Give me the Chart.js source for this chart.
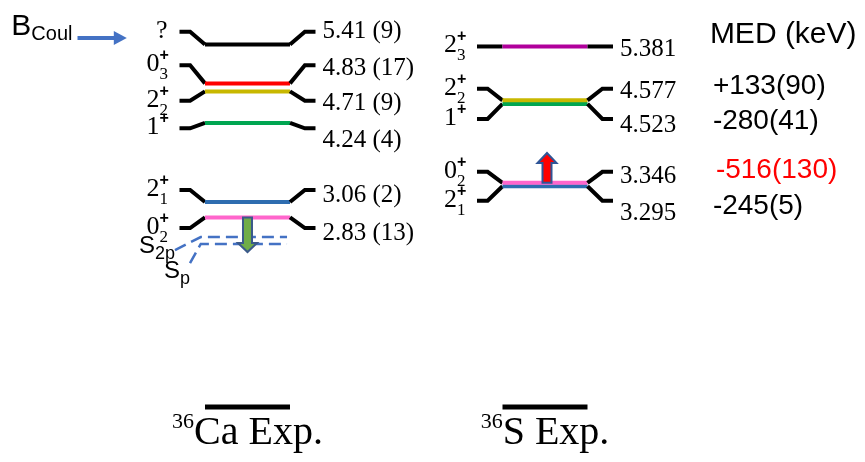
<!DOCTYPE html>
<html><head><meta charset="utf-8">
<script src="https://cdn.jsdelivr.net/npm/chart.js@4.4.1/dist/chart.umd.min.js"></script>
<style>html,body{margin:0;padding:0;background:#fff;}canvas{display:block}</style>
</head><body>
<canvas id="c" width="865" height="462"></canvas>
<script>
// ---------------- data ----------------
// 36Ca experimental levels (MeV)
const caEnergies = [5.41, 4.83, 4.71, 4.24, 3.06, 2.83];
const caLabelE   = [5.60, 5.10, 4.57, 4.16, 3.24, 2.67];   // where the side labels sit
const caValues   = ['5.41 (9)', '4.83 (17)', '4.71 (9)', '4.24 (4)', '3.06 (2)', '2.83 (13)'];
const caSpin     = ['?', '0', '2', '1', '2', '0'];
const caSub      = ['', '3', '2', '', '1', '2'];
const caSup      = ['', '+', '+', '+', '+', '+'];
const caColors   = ['#000000', '#FF0000', '#C8B800', '#00A651', '#2E6DB0', '#FF66CC'];

// 36S experimental levels (MeV)
const sEnergies = [5.381, 4.577, 4.523, 3.346, 3.295];
const sLabelE   = [5.381, 4.75, 4.30, 3.51, 3.08];
const sValues   = ['5.381', '4.577', '4.523', '3.346', '3.295'];
const sSpin     = ['2', '2', '1', '0', '2'];
const sSub      = ['3', '2', '', '2', '1'];
const sSup      = ['+', '+', '+', '+', '+'];
const sColors   = ['#B0009B', '#C8B800', '#00A651', '#FF66CC', '#2E6DB0'];

// mirror energy differences (keV), per 36S level
const medTitle  = 'MED (keV)';
const medValues = [null, '+133(90)', '-280(41)', '-516(130)', '-245(5)'];
const medColors = [null, '#000000', '#000000', '#FF0000', '#000000'];

// proton separation thresholds in 36Ca (diagram, MeV)
const thrNames    = ['2p', 'p'];
const thrEnergies = [2.537, 2.433];
const thrFootE    = [2.343, 2.149];

// shift arrows (MeV from -> to)
const caArrow = [2.83, 2.313];
const sArrow  = [3.346, 3.79];
const bCoulE  = 5.507;

const columnX       = [0, 7];
const columnIsotope = ['36', '36'];
const columnTitles  = ['Ca Exp.', 'S Exp.'];

// ---------------- layout ----------------
const serif = '"Liberation Serif", "Times New Roman", serif';
const sans  = '"Liberation Sans", Arial, sans-serif';
const STUB_OUT = 1.6, STUB_IN = 1.35, FLAT = 1.0;
const caTextNudge  = [-2, 1, 1, 10, 4, 3];
const sTextNudge   = [1, 1, 5, 3, 11];
const medTextNudge = [0, -2, 2, -2, 6];

function levelDataset(cx, E, lab, color) {
  return {
    data: [
      {x: cx - STUB_OUT, y: lab}, {x: cx - STUB_IN, y: lab}, {x: cx - FLAT, y: E},
      {x: cx + FLAT, y: E}, {x: cx + STUB_IN, y: lab}, {x: cx + STUB_OUT, y: lab}
    ],
    showLine: true, pointRadius: 0, borderWidth: 4, borderColor: '#000',
    segment: { borderColor: c => c.p0DataIndex === 2 ? color : '#000' },
    borderCapStyle: 'butt', borderJoinStyle: 'miter', clip: false, tension: 0
  };
}

const datasets = [];
caEnergies.forEach((E, i) => datasets.push(levelDataset(columnX[0], E, caLabelE[i], caColors[i])));
sEnergies.forEach((E, i) => datasets.push(levelDataset(columnX[1], E, sLabelE[i], sColors[i])));
// ground-state bars
columnX.forEach(cx => datasets.push({
  data: [{x: cx - FLAT, y: 0}, {x: cx + FLAT, y: 0}],
  showLine: true, pointRadius: 0, borderWidth: 5, borderColor: '#000', borderCapStyle: 'butt', clip: false
}));
// thresholds (dashed)
const thrFootX = [-1.706, -1.353];
thrEnergies.forEach((E, i) => datasets.push({
  data: [{x: thrFootX[i], y: thrFootE[i]}, {x: -1.1, y: E}, {x: 0.93, y: E}],
  showLine: true, pointRadius: 0, borderWidth: 2.5, borderColor: '#4472C4',
  borderDash: [12, 6], borderCapStyle: 'butt', clip: false
}));

function blockArrow(ctx, x, y0, y1, shaftW, headW, headH, fill, stroke) {
  const dir = y1 > y0 ? 1 : -1;
  const yh = y1 - dir * headH;
  ctx.beginPath();
  ctx.moveTo(x - shaftW / 2, y0);
  ctx.lineTo(x - shaftW / 2, yh);
  ctx.lineTo(x - headW / 2, yh);
  ctx.lineTo(x, y1);
  ctx.lineTo(x + headW / 2, yh);
  ctx.lineTo(x + shaftW / 2, yh);
  ctx.lineTo(x + shaftW / 2, y0);
  ctx.closePath();
  ctx.fillStyle = fill; ctx.fill();
  ctx.lineWidth = 2; ctx.strokeStyle = stroke; ctx.lineJoin = 'miter'; ctx.stroke();
}

function spinLabel(ctx, xRight, y, main, sub, sup) {
  const extra = (sub || sup) ? 8 : 0;
  ctx.fillStyle = '#000';
  ctx.textBaseline = 'alphabetic';
  ctx.textAlign = 'right';
  ctx.font = `26px ${serif}`;
  ctx.fillText(main, xRight - extra, y + 6);
  ctx.textAlign = 'left';
  if (sup) { ctx.font = `bold 16px ${sans}`; ctx.fillText(sup, xRight - extra, y - 5); }
  if (sub) { ctx.font = `17px ${serif}`; ctx.fillText(sub, xRight - extra, y + 14); }
}

const annot = {
  id: 'annot',
  afterDatasetsDraw(chart) {
    const ctx = chart.ctx, xs = chart.scales.x, ys = chart.scales.y;
    const X = v => xs.getPixelForValue(v), Y = v => ys.getPixelForValue(v);
    ctx.save();
    const drawCol = (cx, labE, values, spin, sub, sup, nudge) => {
      labE.forEach((e, i) => {
        const y = Y(e);
        spinLabel(ctx, X(cx - STUB_OUT) - 12, y, spin[i], sub[i], sup[i]);
        ctx.font = `25px ${serif}`; ctx.textAlign = 'left'; ctx.textBaseline = 'middle';
        ctx.fillStyle = '#000';
        ctx.fillText(values[i], X(cx + STUB_OUT) + 7, y + 2 + nudge[i]);
      });
    };
    drawCol(columnX[0], caLabelE, caValues, caSpin, caSub, caSup, caTextNudge);
    drawCol(columnX[1], sLabelE, sValues, sSpin, sSub, sSup, sTextNudge);

    // MED column
    const medX = X(10.95);
    ctx.textAlign = 'left'; ctx.textBaseline = 'middle';
    ctx.fillStyle = '#000';
    ctx.font = `30px ${sans}`;
    ctx.fillText(medTitle, medX - 3, Y(sLabelE[0]) - 12);
    ctx.font = `28px ${sans}`;
    medValues.forEach((m, i) => {
      if (!m) return;
      ctx.fillStyle = medColors[i];
      ctx.fillText(m, medX + (m.length > 8 ? 3 : 0), Y(sLabelE[i]) + medTextNudge[i]);
    });

    // arrows
    blockArrow(ctx, X(columnX[0]), Y(caArrow[0]), Y(caArrow[1]), 9, 19, 9, '#70AD47', '#3B5A8A');
    blockArrow(ctx, X(columnX[1]) + 2, Y(sArrow[0]), Y(sArrow[1]), 9, 19, 10, '#FF0000', '#2F5597');

    // threshold labels
    ctx.fillStyle = '#000'; ctx.textBaseline = 'alphabetic';
    thrNames.forEach((n, i) => {
      const xr = X(thrFootX[i]), yb = Y(thrFootE[i]);
      const yS = i === 0 ? yb + 3 : yb + 15;
      ctx.font = `18px ${sans}`;
      const wSub = ctx.measureText(n).width;
      ctx.textAlign = 'right';
      ctx.fillText(n, xr, yS + 6);
      ctx.font = `24px ${sans}`;
      ctx.fillText('S', xr - wSub, yS);
    });

    // B_Coul arrow
    const ay = Y(bCoulE), ax0 = X(-4.0), ax1 = X(-2.84);
    ctx.strokeStyle = '#4472C4'; ctx.fillStyle = '#4472C4'; ctx.lineWidth = 4;
    ctx.beginPath(); ctx.moveTo(ax0, ay); ctx.lineTo(ax1 - 11, ay); ctx.stroke();
    ctx.beginPath(); ctx.moveTo(ax1 - 13, ay - 7); ctx.lineTo(ax1, ay); ctx.lineTo(ax1 - 13, ay + 7); ctx.closePath(); ctx.fill();
    ctx.fillStyle = '#000'; ctx.textAlign = 'right'; ctx.textBaseline = 'alphabetic';
    ctx.font = `20px ${sans}`;
    const wC = ctx.measureText('Coul').width;
    ctx.fillText('Coul', ax0 - 5, ay + 2);
    ctx.font = `30px ${sans}`;
    ctx.fillText('B', ax0 - 5 - wC, ay - 3);

    // column titles
    columnX.forEach((cx, i) => {
      const base = Y(0) + 37;
      ctx.font = `22px ${serif}`;
      const w1 = ctx.measureText(columnIsotope[i]).width;
      ctx.font = `40px ${serif}`;
      const w2 = ctx.measureText(columnTitles[i]).width;
      const x0 = X(cx) - (w1 + w2) / 2;
      ctx.textAlign = 'left';
      ctx.font = `22px ${serif}`;
      ctx.fillText(columnIsotope[i], x0, base - 16);
      ctx.font = `40px ${serif}`;
      ctx.fillText(columnTitles[i], x0 + w1, base);
    });
    ctx.restore();
  }
};

new Chart(document.getElementById('c'), {
  type: 'scatter',
  data: { datasets },
  options: {
    responsive: false, animation: false, devicePixelRatio: 1,
    layout: { padding: 0 },
    plugins: { legend: { display: false }, tooltip: { enabled: false }, title: { display: false } },
    scales: {
      x: { type: 'linear', min: -5.8235, max: 14.5294, display: false },
      y: { type: 'linear', min: -0.821, max: 6.0746, display: false }
    }
  },
  plugins: [annot]
});
</script>
</body></html>
